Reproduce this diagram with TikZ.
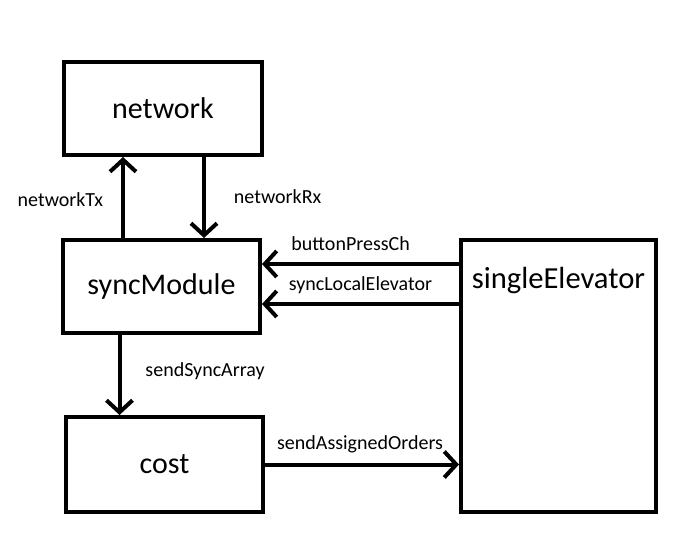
\documentclass[tikz,border=0pt]{standalone}
\usepackage{fontspec}
\setmainfont{Carlito}
\usetikzlibrary{arrows.meta,positioning,calc}
\tikzset{
  modbox/.style={
    rectangle, draw=black, line width=2pt,
    minimum width=#1, minimum height=46.5pt,
    font=\fontsize{15pt}{18pt}\selectfont, align=center,
    inner sep=0pt
  },
  modbox/.default=98.5pt,
  chanarrow/.style={
    -{Straight Barb[length=6pt, width=13pt, line width=2pt]}, line width=2pt
  },
  chanlabel/.style={font=\fontsize{10pt}{12pt}\selectfont, inner sep=2pt}
}
\begin{document}
\begin{tikzpicture}
  \useasboundingbox (0,0) rectangle (349pt,-279pt);
  \node[modbox=99pt] (net) at (81.5pt,-54.25pt) {network};
  \node[modbox, below=40.5pt of net, xshift=-0.75pt] (sync) {syncModule};
  \node[modbox, minimum height=47.5pt, below=40pt of sync, xshift=1.5pt] (cost) {cost};
  \node[modbox=97.5pt, minimum height=136pt, right=98.5pt of sync.north east,
        anchor=north west] (elev) {};
  \node[font=\fontsize{15.3pt}{18pt}\selectfont, inner sep=0pt]
        (elevname) at ([yshift=-21.5pt]elev.north) {singleElevator};
  % network <-> syncModule
  \draw[chanarrow] ([xshift=-19.25pt]sync.north) -- ([xshift=-19.25pt]sync.north |- net.south)
        node[chanlabel, pos=0.47, left=7pt] {networkTx};
  \draw[chanarrow] ([xshift=20.5pt]net.south) -- ([xshift=20.5pt]net.south |- sync.north)
        node[chanlabel, pos=0.49, right=12pt] {networkRx};
  % singleElevator -> syncModule
  \draw[chanarrow] ([yshift=11.25pt]elev.west |- sync.east) -- ([yshift=11.25pt]sync.east)
        node[chanlabel, pos=0.55, above=3.5pt] {buttonPressCh};
  \draw[chanarrow] ([yshift=-8.75pt]elev.west |- sync.east) -- ([yshift=-8.75pt]sync.east)
        node[chanlabel, pos=0.5, above=2pt] {syncLocalElevator};
  % syncModule -> cost -> singleElevator
  \draw[chanarrow] ([xshift=-21pt]sync.south) -- ([xshift=-21pt]sync.south |- cost.north)
        node[chanlabel, pos=0.45, right=10pt] {sendSyncArray};
  \draw[chanarrow] (cost.east) -- (cost.east -| elev.west)
        node[chanlabel, pos=0.49, above=3pt] {sendAssignedOrders};
\end{tikzpicture}
\end{document}
